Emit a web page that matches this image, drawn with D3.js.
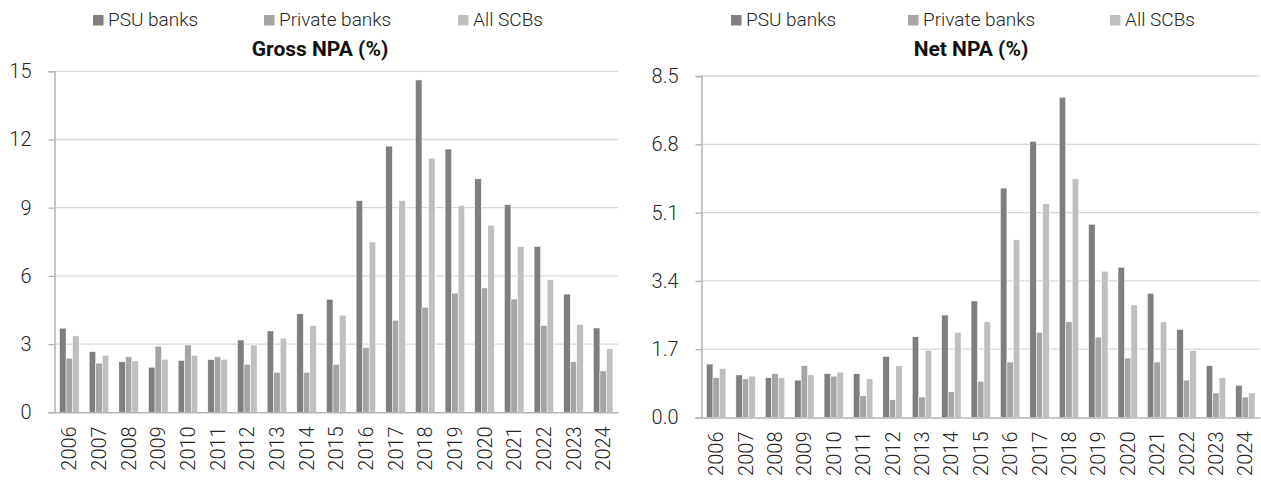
<!DOCTYPE html>
<html>
<head>
<meta charset="utf-8">
<script src="https://cdn.jsdelivr.net/npm/d3@7"></script>
<style>
  html, body { margin: 0; padding: 0; background: #ffffff; }
  svg { display: block; font-family: "Roboto Light", Roboto, "Noto Sans", sans-serif; }
</style>
</head>
<body>
<svg id="chart" width="1261" height="481"></svg>
<script>
// Fiscal years shown on both panels
const years = ["2006","2007","2008","2009","2010","2011","2012","2013","2014","2015",
               "2016","2017","2018","2019","2020","2021","2022","2023","2024"];

const seriesNames = ["PSU banks", "Private banks", "All SCBs"];

// Gross NPA ratio (%)
const grossPSU = [3.70,2.67,2.22,1.98,2.28,2.32,3.18,3.58,4.33,4.97,9.31,11.71,14.62,11.58,10.27,9.13,7.29,5.20,3.71];
const grossPvt = [2.38,2.16,2.44,2.91,2.96,2.44,2.11,1.76,1.76,2.11,2.85,4.05,4.62,5.24,5.47,4.98,3.82,2.22,1.82];
const grossAll = [3.36,2.51,2.26,2.33,2.51,2.33,2.96,3.26,3.82,4.27,7.49,9.31,11.18,9.09,8.22,7.29,5.83,3.87,2.79];

// Net NPA ratio (%)
const netPSU = [1.33,1.06,0.99,0.93,1.09,1.09,1.52,2.01,2.55,2.90,5.71,6.87,7.97,4.81,3.74,3.09,2.19,1.29,0.80];
const netPvt = [0.99,0.96,1.09,1.29,1.03,0.54,0.44,0.51,0.64,0.90,1.38,2.12,2.38,2.00,1.48,1.38,0.93,0.61,0.51];
const netAll = [1.22,1.03,0.99,1.06,1.13,0.96,1.29,1.67,2.12,2.38,4.42,5.32,5.94,3.64,2.80,2.38,1.67,0.99,0.61];

// Axis tick values
const grossTicks = [0, 3, 6, 9, 12, 15];
const netTicks = [0, 1.7, 3.4, 5.1, 6.8, 8.5];

const colors = ["#7f7f7f", "#a5a5a5", "#bfbfbf"];
const textColor = "#262626";
const lightFont = '"Roboto Light", Roboto, sans-serif';

const svg = d3.select("#chart");

function drawPanel(cfg) {
  const g = svg.append("g");
  const series = [cfg.psu, cfg.pvt, cfg.all];

  const x = d3.scaleBand().domain(years).range([cfg.x0, cfg.x1]).paddingInner(0.34).paddingOuter(0.17);
  const xs = d3.scaleBand().domain(d3.range(3)).range([0, x.bandwidth()]);
  const y = d3.scaleLinear().domain([0, cfg.max]).range([cfg.yBase, cfg.yTop]);

  // horizontal gridlines
  g.append("g").selectAll("line").data(cfg.ticks.slice(1)).join("line")
    .attr("x1", cfg.x0).attr("x2", cfg.x1)
    .attr("y1", d => y(d)).attr("y2", d => y(d))
    .attr("stroke", "#d9d9d9").attr("stroke-width", 1.3);

  // y axis with outer ticks
  const yAxis = d3.axisLeft(y).tickValues(cfg.ticks).tickSize(6).tickPadding(17)
    .tickFormat(cfg.fmt);
  const ya = g.append("g").attr("transform", `translate(${cfg.x0},0)`).call(yAxis);
  ya.select(".domain").attr("stroke", "#b3b3b3").attr("stroke-width", 1.5);
  ya.selectAll(".tick line").attr("stroke", "#b3b3b3").attr("stroke-width", 1.3);
  ya.selectAll(".tick text")
    .attr("fill", textColor).attr("font-size", 20).attr("font-weight", 300)
    .attr("font-family", lightFont);

  // bars
  series.forEach((vals, si) => {
    g.append("g").selectAll("rect").data(vals).join("rect")
      .attr("x", (d, i) => x(years[i]) + xs(si))
      .attr("width", xs.bandwidth())
      .attr("y", d => y(d))
      .attr("height", d => y(0) - y(d))
      .attr("fill", colors[si])
      .attr("stroke", "#ffffff").attr("stroke-width", 0.5);
  });

  // x axis
  const xAxis = d3.axisBottom(x).tickSize(0).tickPadding(0);
  const xa = g.append("g").attr("transform", `translate(0,${cfg.yBase})`).call(xAxis);
  xa.select(".domain").attr("stroke", "#b3b3b3").attr("stroke-width", 1.5);
  xa.selectAll(".tick text")
    .attr("fill", textColor).attr("font-size", 20).attr("font-weight", 300)
    .attr("font-family", lightFont)
    .attr("text-anchor", "end")
    .attr("dy", "0.35em")
    .attr("transform", `translate(0,${cfg.labelGap}) rotate(-90)`)
    .attr("x", 0).attr("y", 0);

  // title
  g.append("text").attr("x", cfg.titleX).attr("y", 56)
    .attr("text-anchor", "middle").attr("font-size", 21).attr("font-weight", 700)
    .attr("font-family", "Roboto, sans-serif")
    .attr("fill", "#111111").text(cfg.title);

  // legend
  const lg = g.append("g");
  seriesNames.forEach((name, i) => {
    lg.append("rect").attr("x", cfg.legendX[i]).attr("y", 15).attr("width", 10.5).attr("height", 10.5)
      .attr("fill", colors[i]);
    lg.append("text").attr("x", cfg.legendX[i] + 15).attr("y", 26)
      .attr("font-size", 19).attr("font-weight", 300).attr("font-family", lightFont)
      .attr("fill", textColor).text(name);
  });
}

drawPanel({
  psu: grossPSU, pvt: grossPvt, all: grossAll,
  ticks: grossTicks, max: 15, fmt: d3.format("d"),
  x0: 54.5, x1: 618, yBase: 412.3, yTop: 71.3, labelGap: 14,
  title: "Gross NPA (%)", titleX: 320, legendX: [93, 264, 458]
});

drawPanel({
  psu: netPSU, pvt: netPvt, all: netAll,
  ticks: netTicks, max: 8.5, fmt: d3.format(".1f"),
  x0: 701.5, x1: 1260, yBase: 417.5, yTop: 76, labelGap: 14,
  title: "Net NPA (%)", titleX: 971, legendX: [731, 908, 1110]
});
</script>
</body>
</html>
